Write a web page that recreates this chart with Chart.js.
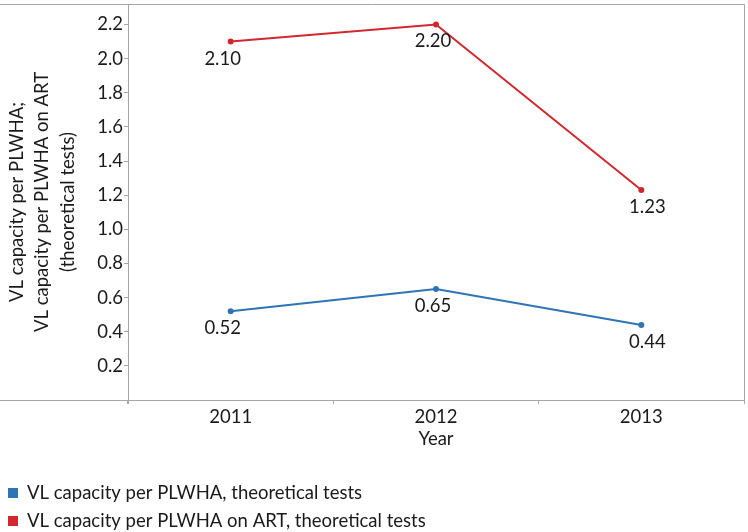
<!DOCTYPE html>
<html>
<head>
<meta charset="utf-8">
<script src="https://cdn.jsdelivr.net/npm/chart.js@4/dist/chart.umd.min.js"></script>
<style>
  html, body { margin: 0; padding: 0; background: #fff; }
  #wrap { width: 748px; height: 532px; }
</style>
</head>
<body>
<div id="wrap"><canvas id="myChart" width="748" height="532"></canvas></div>
<script>
// chart data
const years = ['2011', '2012', '2013'];
const perPlwha = [0.52, 0.65, 0.44];
const perPlwhaArt = [2.10, 2.20, 1.23];
const seriesNames = ['VL capacity per PLWHA, theoretical tests', 'VL capacity per PLWHA on ART, theoretical tests'];
const yTicks = [0.2, 0.4, 0.6, 0.8, 1.0, 1.2, 1.4, 1.6, 1.8, 2.0, 2.2];

const blue = '#2e75b6';
const red = '#d0282e';
const axisGrey = '#a6a6a6';
const txt = '#1a1a1a';
const fontName = 'Lato, "Open Sans", sans-serif';
const fs = 18.5;

// value labels under each point
const valueLabels = {
  id: 'valueLabels',
  afterDatasetsDraw(chart) {
    const ctx = chart.ctx;
    const dx = [-8, -3, 6];
    ctx.save();
    ctx.font = fs + 'px ' + fontName;
    ctx.fillStyle = txt;
    ctx.textAlign = 'center';
    ctx.textBaseline = 'middle';
    chart.data.datasets.forEach(function (ds, i) {
      chart.getDatasetMeta(i).data.forEach(function (pt, j) {
        ctx.fillText(ds.data[j].toFixed(2), pt.x + dx[j], pt.y + 17);
      });
    });
    ctx.restore();
  }
};

// frame: top line, right line, x axis running to the left edge
const frame = {
  id: 'frame',
  beforeDatasetsDraw(chart) {
    const a = chart.chartArea;
    const ctx = chart.ctx;
    ctx.save();
    ctx.strokeStyle = axisGrey;
    ctx.lineWidth = 1;
    ctx.beginPath();
    ctx.moveTo(0, a.top + 0.5);
    ctx.lineTo(a.right + 0.5, a.top + 0.5);
    ctx.lineTo(a.right + 0.5, a.bottom + 3);
    ctx.moveTo(0, a.bottom + 0.5);
    ctx.lineTo(a.right, a.bottom + 0.5);
    ctx.moveTo(a.left + 0.5, a.top);
    ctx.lineTo(a.left + 0.5, a.bottom + 4);
    ctx.stroke();
    ctx.restore();
  }
};

// legend stacked in two rows at bottom left
const stackedLegend = {
  id: 'stackedLegend',
  afterDraw(chart) {
    const ctx = chart.ctx;
    ctx.save();
    ctx.font = fs + 'px ' + fontName;
    ctx.textBaseline = 'middle';
    ctx.textAlign = 'left';
    chart.data.datasets.forEach(function (ds, i) {
      const y = 493 + i * 28;
      ctx.fillStyle = ds.borderColor;
      ctx.fillRect(8, y - 5, 10, 10);
      ctx.fillStyle = txt;
      ctx.fillText(ds.label, 27, y);
    });
    ctx.restore();
  }
};

const config = {
  type: 'line',
  data: {
    labels: years,
    datasets: [
      {
        label: seriesNames[0],
        data: perPlwha,
        borderColor: blue,
        backgroundColor: blue,
        borderWidth: 2,
        pointRadius: 2,
        pointHoverRadius: 2,
        tension: 0
      },
      {
        label: seriesNames[1],
        data: perPlwhaArt,
        borderColor: red,
        backgroundColor: red,
        borderWidth: 2,
        pointRadius: 2,
        pointHoverRadius: 2,
        tension: 0
      }
    ]
  },
  options: {
    responsive: false,
    animation: false,
    layout: { padding: { top: 0, right: 3, left: 0, bottom: 82 } },
    plugins: {
      tooltip: { enabled: false },
      legend: { display: false }
    },
    scales: {
      x: {
        offset: true,
        grid: { display: true, drawOnChartArea: false, drawTicks: true, tickLength: 4, color: axisGrey, offset: true },
        border: { display: false },
        ticks: { color: txt, padding: 2, font: { family: fontName, size: fs } },
        title: { display: true, text: 'Year', color: txt, padding: { top: 0, bottom: 0 }, font: { family: fontName, size: fs } },
        afterFit(scale) {
          scale.height = 50;
          scale.paddingLeft = 0;
          scale.paddingRight = 0;
        }
      },
      y: {
        min: 0,
        max: 2.32,
        afterBuildTicks(scale) {
          scale.ticks = yTicks.map(function (v) { return { value: v }; });
        },
        grid: { display: true, drawOnChartArea: false, drawTicks: true, tickLength: 4, color: axisGrey },
        border: { display: false },
        ticks: {
          color: txt,
          padding: 1,
          font: { family: fontName, size: fs },
          callback: function (v) { return Number(v).toFixed(1); }
        },
        title: {
          display: true,
          text: ['VL capacity per PLWHA;', 'VL capacity per PLWHA on ART', '(theoretical tests)'],
          color: txt,
          padding: { top: 4, bottom: 0 },
          font: { family: fontName, size: fs, lineHeight: 1.38 }
        },
        afterFit(scale) {
          scale.width = 128;
          scale.paddingTop = 0;
          scale.paddingBottom = 0;
        }
      }
    }
  },
  plugins: [frame, valueLabels, stackedLegend]
};

const myChart = new Chart(document.getElementById('myChart'), config);
</script>
</body>
</html>
